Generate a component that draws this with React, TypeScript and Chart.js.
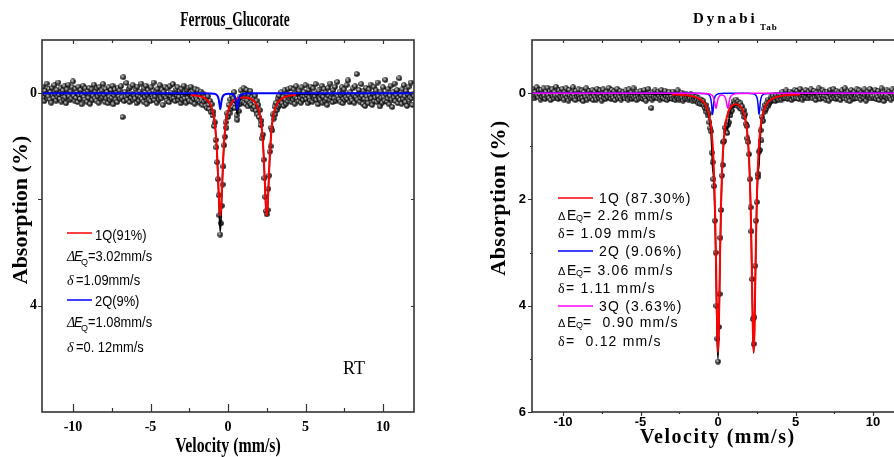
import React, { useEffect, useRef } from 'react';
import { Chart, registerables } from 'chart.js';

Chart.register(...registerables);

const SERIF = '"Liberation Serif", "Times New Roman", serif';
const SANS = '"Liberation Sans", Arial, sans-serif';
const RED = '#ff0000';
const BLUE = '#0000ff';
const MAGENTA = '#ff00ff';
const BLACK = '#000000';
const AXIS = '#333333';

// channel calibration of the spectra (velocity of first channel and channel width, mm/s)
const VEL_START = -12;
const VEL_STEP = 0.05;

const xMajorTicks = [-10, -5, 0, 5, 10];
const xMinorTicks = [-7.5, -2.5, 2.5, 7.5];
const leftYLabels = [0, 4];
const leftYTicks = [0, 2, 4];
const rightYLabels = [0, 2, 4, 6];
const rightYMinor = [1, 3, 5];

// ---- Ferrous_Glucorate: measured absorption (%) per channel ----
const leftAbs = [
  0.05,-0.12,0.08,0.15,-0.04,0.02,-0.18,0.10,0.06,-0.08,0.12,-0.02,0.18,-0.10,0.04,0.09,-0.15,0.01,0.14,-0.06,
  0.07,-0.20,0.03,0.11,-0.09,0.16,0.00,-0.05,0.12,-0.13,0.08,0.19,-0.07,0.02,-0.16,0.06,0.13,-0.03,0.10,-0.11,
  -0.22,0.05,0.14,-0.08,0.09,-0.01,0.17,-0.12,0.04,0.11,-0.06,0.21,0.03,-0.14,0.07,0.12,-0.09,0.00,0.16,-0.04,
  0.09,-0.10,0.20,0.01,-0.07,0.13,0.05,-0.16,0.10,-0.03,0.14,-0.09,0.06,0.18,-0.12,0.02,0.11,-0.05,0.08,-0.17,
  0.03,0.16,-0.08,0.10,-0.02,0.19,-0.11,0.07,0.13,-0.06,0.09,-0.14,0.21,0.04,-0.07,0.12,0.00,0.17,-0.10,0.06,
  -0.05,0.11,-0.13,0.08,0.45,-0.30,0.15,-0.02,0.06,-0.19,0.12,0.03,-0.08,0.17,-0.11,0.09,0.01,-0.15,0.13,0.04,
  0.10,-0.07,0.19,-0.12,0.05,0.14,-0.03,0.08,-0.18,0.11,0.02,0.16,-0.09,0.07,-0.14,0.20,0.03,-0.06,0.12,-0.01,
  0.15,-0.11,0.04,0.09,-0.20,0.13,0.06,-0.04,0.18,-0.08,0.01,0.12,-0.15,0.07,0.10,-0.06,0.22,-0.02,0.05,-0.12,
  0.08,0.14,-0.09,0.03,0.17,-0.13,0.06,-0.01,0.11,-0.17,0.09,0.02,0.15,-0.07,0.04,-0.11,0.13,0.07,-0.04,0.19,
  -0.08,0.12,0.05,-0.14,0.10,0.01,0.18,-0.06,0.09,-0.10,0.14,0.03,-0.12,0.16,0.06,-0.03,0.11,0.20,-0.07,0.08,
  0.12,-0.05,0.15,0.02,0.18,-0.03,0.14,0.22,0.01,0.16,0.08,0.24,0.13,0.28,0.06,0.22,0.30,0.15,0.36,0.21,
  0.42,0.35,0.62,0.55,0.88,1.02,1.30,1.62,1.92,2.30,2.66,2.45,2.12,1.72,1.38,0.98,0.82,0.55,0.65,0.38,
  0.45,0.22,0.38,0.12,0.30,0.05,0.26,0.10,-0.02,0.28,0.15,0.42,0.50,0.22,0.34,0.08,0.20,-0.05,0.16,0.02,
  -0.10,0.18,0.02,0.21,-0.06,0.14,0.25,0.03,0.19,-0.04,0.22,0.08,0.30,0.11,0.26,0.05,0.33,0.14,0.40,0.22,
  0.45,0.32,0.60,0.52,0.85,0.78,1.25,1.60,1.95,2.22,2.28,2.20,1.80,1.55,1.10,1.00,0.65,0.70,0.40,0.48,
  0.25,0.40,0.18,0.32,0.10,0.26,0.05,0.22,0.16,-0.02,0.19,0.08,0.24,-0.05,0.12,0.20,0.02,0.15,-0.08,0.10,
  0.06,-0.10,0.17,0.03,0.12,-0.07,0.20,0.08,-0.13,0.10,0.01,0.15,-0.04,0.09,0.18,-0.11,0.05,0.13,-0.02,0.07,
  -0.15,0.11,0.04,0.19,-0.06,0.08,0.14,-0.12,0.02,0.16,-0.09,0.10,0.06,-0.17,0.13,0.00,0.21,-0.05,0.09,0.12,
  0.03,-0.14,0.18,0.07,-0.08,0.15,-0.01,0.11,0.22,-0.10,0.05,0.13,-0.18,0.08,0.02,0.17,-0.06,0.10,-0.12,0.14,
  0.09,-0.21,0.06,0.12,-0.03,0.16,0.04,-0.11,0.19,0.01,-0.07,0.13,0.08,-0.15,0.11,-0.24,0.05,0.17,-0.02,0.10,
  0.14,-0.09,0.03,0.18,-0.13,0.07,-0.36,0.12,0.02,-0.06,0.16,0.09,-0.17,0.05,0.20,-0.04,0.11,0.24,-0.10,0.06,
  0.12,0.19,-0.07,0.04,-0.16,0.10,0.22,0.01,-0.12,0.15,0.08,-0.05,0.17,-0.20,0.06,0.13,0.25,-0.03,0.09,0.18,
  -0.11,0.07,0.14,-0.25,0.02,0.16,0.10,-0.08,0.21,0.05,-0.14,0.12,0.26,-0.02,0.08,-0.18,0.15,0.03,-0.06,0.19,
  0.09,-0.28,0.13,0.04,0.20,-0.07,0.11,-0.15,0.06,0.17,-0.04,0.24,0.02,-0.12,0.14,0.08,-0.20,0.10,0.22,0.01,
  0.05,
];

// fitted components (velocity knots, absorption %)
const left1QVel = [-2.4,-1.5,-1.2,-1.0,-0.9,-0.8,-0.7,-0.6,-0.55,-0.5,-0.45,-0.4,-0.3,-0.2,-0.1,0.0,0.3,0.6,1.0,1.4,1.7,2.0,2.1,2.2,2.3,2.4,2.45,2.5,2.55,2.6,2.7,2.8,2.9,3.0,3.2,3.5,4.0,4.4];
const left1QAbs = [0.029,0.094,0.181,0.324,0.467,0.715,1.158,1.848,2.173,2.308,2.174,1.851,1.161,0.72,0.473,0.332,0.154,0.099,0.080,0.099,0.154,0.332,0.473,0.72,1.161,1.851,2.174,2.308,2.173,1.848,1.158,0.715,0.467,0.324,0.181,0.094,0.045,0.029];
const left2QVel = [-12,-1.5,-0.9,-0.75,-0.65,-0.6,-0.55,-0.5,-0.45,-0.4,-0.35,-0.25,-0.1,0.05,0.2,0.35,0.45,0.5,0.55,0.6,0.65,0.7,0.75,0.85,1.0,1.6,12];
const left2QAbs = [0,0.003,0.012,0.028,0.067,0.117,0.216,0.302,0.218,0.119,0.069,0.031,0.015,0.012,0.016,0.031,0.069,0.119,0.218,0.302,0.216,0.117,0.067,0.028,0.012,0.003,0];
const leftSumVel = [-12,-3,-2.4,-1.5,-1.2,-1.0,-0.9,-0.8,-0.7,-0.6,-0.55,-0.5,-0.45,-0.4,-0.3,-0.2,-0.1,0.0,0.2,0.3,0.4,0.5,0.55,0.6,0.65,0.7,0.8,1.0,1.4,1.7,2.0,2.1,2.2,2.3,2.4,2.45,2.5,2.55,2.6,2.7,2.8,2.9,3.0,3.2,3.5,4.0,5.0,12];
const leftSumAbs = [0,0.018,0.029,0.097,0.185,0.332,0.479,0.735,1.199,1.965,2.389,2.61,2.392,1.97,1.202,0.743,0.488,0.345,0.207,0.177,0.17,0.228,0.321,0.401,0.313,0.209,0.125,0.092,0.102,0.156,0.332,0.473,0.72,1.161,1.851,2.174,2.308,2.173,1.848,1.158,0.715,0.467,0.324,0.181,0.094,0.045,0.019,0];

// ---- Dynabi Tab: measured absorption (%) per channel ----
const rightAbs = [
  0.03,-0.08,0.05,0.10,-0.02,0.06,-0.11,0.04,0.08,-0.05,0.02,0.12,-0.06,0.07,0.01,-0.09,0.05,0.11,-0.03,0.06,
  -0.10,0.04,0.09,-0.04,0.13,0.02,-0.07,0.06,0.10,-0.02,0.05,-0.12,0.08,0.03,0.11,-0.05,0.07,0.00,0.09,-0.08,
  0.06,0.12,-0.03,0.04,-0.09,0.08,0.02,0.14,-0.06,0.05,0.10,-0.01,0.07,-0.11,0.03,0.09,0.13,-0.04,0.06,0.01,
  -0.07,0.05,0.11,0.02,-0.05,0.09,0.15,-0.02,0.04,0.07,-0.09,0.12,0.03,0.06,-0.04,0.10,0.01,0.08,-0.06,0.13,
  0.04,-0.03,0.08,0.12,-0.08,0.05,0.02,0.10,-0.05,0.07,0.14,0.00,-0.07,0.09,0.04,0.11,-0.02,0.06,0.08,-0.10,
  0.07,0.03,0.11,-0.06,0.05,0.09,-0.03,0.13,0.01,0.06,-0.08,0.10,0.04,0.08,-0.04,0.12,0.02,0.07,-0.02,0.05,
  0.10,-0.05,0.06,0.03,0.12,-0.07,0.08,0.04,-0.01,0.11,0.06,-0.09,0.09,0.02,0.07,0.13,-0.03,0.05,0.10,0.01,
  -0.04,0.08,0.03,0.11,0.06,-0.06,0.09,0.14,0.02,0.05,-0.08,0.07,0.10,0.04,0.28,0.12,-0.02,0.06,0.09,-0.05,
  0.07,0.02,0.10,-0.03,0.05,0.12,0.08,-0.06,0.04,0.09,0.01,0.11,-0.04,0.06,0.13,0.03,0.08,-0.02,0.10,0.05,
  0.06,0.11,-0.03,0.08,0.04,0.13,0.02,0.09,-0.05,0.07,0.12,0.05,0.10,-0.01,0.08,0.14,0.03,0.06,0.11,0.02,
  0.08,0.03,0.12,0.06,0.10,0.02,0.09,0.14,0.05,0.11,0.08,0.15,0.07,0.12,0.18,0.10,0.14,0.20,0.12,0.17,
  0.20,0.15,0.24,0.28,0.22,0.35,0.30,0.42,0.38,0.55,0.66,0.72,1.12,1.30,1.62,1.75,2.40,3.00,4.00,4.62,
  5.05,4.40,3.78,2.72,2.20,1.55,1.35,0.92,0.90,0.65,0.72,0.58,0.75,0.60,0.55,0.38,0.42,0.26,0.33,0.22,
  0.22,0.15,0.20,0.12,0.18,0.24,0.16,0.21,0.28,0.19,0.30,0.25,0.36,0.32,0.45,0.40,0.58,0.62,0.85,0.92,
  1.15,1.62,2.15,2.60,3.50,4.25,4.72,4.22,3.25,2.40,2.05,1.58,1.52,1.10,1.07,0.70,0.89,0.45,0.52,0.30,
  0.35,0.22,0.30,0.18,0.25,0.12,0.20,0.16,0.08,0.14,0.10,0.05,0.13,0.09,0.15,0.04,0.11,0.07,0.12,0.03,
  0.08,0.05,0.12,-0.02,0.07,0.10,0.03,0.09,-0.05,0.06,0.11,0.02,0.08,-0.03,0.05,0.13,0.00,0.07,0.10,-0.06,
  0.04,0.09,-0.04,0.06,0.11,0.01,-0.08,0.07,0.03,0.12,-0.02,0.05,0.09,-0.06,0.08,0.02,0.10,-0.03,0.06,0.04,
  -0.07,0.05,0.10,0.02,-0.04,0.08,0.13,-0.01,0.06,0.03,-0.09,0.07,0.11,0.00,0.05,-0.05,0.09,0.04,-0.02,0.12,
  0.06,-0.03,0.08,0.14,0.01,-0.06,0.05,0.10,0.03,-0.08,0.07,0.02,0.11,-0.04,0.06,0.09,-0.01,0.04,0.13,0.00,
  -0.05,0.07,0.03,0.10,-0.09,0.05,0.12,0.02,-0.03,0.08,0.15,0.04,-0.06,0.06,0.01,0.11,-0.02,0.09,0.05,-0.07,
  0.10,0.03,-0.05,0.07,0.12,-0.01,0.06,0.02,0.09,-0.07,0.04,0.14,0.01,-0.03,0.08,0.05,-0.08,0.10,0.03,0.06,
  -0.02,0.09,0.05,-0.06,0.11,0.03,0.07,-0.04,0.13,0.02,0.06,-0.09,0.08,0.04,0.15,-0.01,0.07,0.03,-0.05,0.10,
  0.05,-0.03,0.08,0.12,0.01,-0.07,0.06,0.10,-0.02,0.04,0.09,0.02,-0.05,0.11,0.03,0.07,-0.04,0.08,0.01,0.06,
  0.04,
];

const right1QVel = [-3,-2,-1.5,-1,-0.7,-0.5,-0.4,-0.3,-0.2,-0.15,-0.1,-0.05,0,0.05,0.1,0.15,0.2,0.3,0.4,0.5,0.7,0.9,1.15,1.4,1.6,1.8,1.9,2.0,2.1,2.15,2.2,2.25,2.3,2.35,2.4,2.45,2.5,2.6,2.7,2.8,3.0,3.3,3.8,4.3,5.3];
const right1QAbs = [0.021,0.042,0.071,0.149,0.286,0.521,0.761,1.2,2.056,2.751,3.627,4.489,4.876,4.491,3.632,2.758,2.065,1.214,0.78,0.546,0.324,0.238,0.208,0.238,0.324,0.546,0.78,1.214,2.065,2.758,3.632,4.491,4.876,4.489,3.627,2.751,2.056,1.2,0.761,0.521,0.286,0.149,0.071,0.042,0.021];
const right2QVel = [-12,-1.5,-0.75,-0.6,-0.5,-0.45,-0.42,-0.385,-0.35,-0.315,-0.28,-0.25,-0.2,-0.1,0.05,0.5,1.15,1.8,2.25,2.4,2.5,2.55,2.58,2.615,2.65,2.685,2.72,2.75,2.8,2.9,3.05,3.8,12];
const right2QAbs = [0,0.001,0.012,0.029,0.072,0.131,0.2,0.32,0.4,0.32,0.2,0.131,0.072,0.029,0.012,0.003,0.002,0.003,0.012,0.029,0.072,0.131,0.2,0.32,0.4,0.32,0.2,0.131,0.072,0.029,0.012,0.001,0];
const right3QVel = [-12,-1.5,-0.8,-0.5,-0.35,-0.25,-0.18,-0.13,-0.08,-0.01,0.08,0.25,0.42,0.51,0.58,0.63,0.68,0.75,0.85,1.0,1.4,2.2,12];
const right3QAbs = [0,0.002,0.007,0.021,0.051,0.118,0.228,0.285,0.229,0.122,0.061,0.036,0.061,0.122,0.229,0.285,0.228,0.118,0.051,0.021,0.007,0.002,0];
const rightSumVel = [-12,-3,-2,-1.5,-1,-0.7,-0.5,-0.45,-0.4,-0.35,-0.3,-0.25,-0.2,-0.15,-0.1,-0.05,0,0.05,0.1,0.15,0.2,0.3,0.4,0.5,0.55,0.6,0.63,0.7,0.8,0.9,1.15,1.4,1.6,1.8,1.9,2.0,2.1,2.15,2.2,2.25,2.3,2.35,2.4,2.45,2.5,2.55,2.6,2.65,2.7,2.75,2.8,2.9,3.0,3.3,3.8,4.3,5.3,12];
const rightSumAbs = [0,0.022,0.044,0.074,0.158,0.311,0.614,0.782,1.062,1.397,1.54,1.805,2.32,3.069,3.918,4.686,5.001,4.577,3.696,2.81,2.11,1.257,0.838,0.66,0.648,0.674,0.668,0.519,0.351,0.278,0.222,0.245,0.329,0.551,0.785,1.221,2.072,2.767,3.642,4.503,4.892,4.509,3.656,2.795,2.128,1.687,1.465,1.346,1.026,0.755,0.593,0.406,0.298,0.153,0.072,0.042,0.021,0];

const H = 457;

function channelVelocities(n: number) {
  return Array.from({ length: n }, (_, i) => +(VEL_START + i * VEL_STEP).toFixed(3));
}
function zip(xs: number[], ys: number[]) {
  return xs.map((x, i) => ({ x, y: ys[i] }));
}

function makeBall(d: number) {
  const c = document.createElement('canvas');
  c.width = d; c.height = d;
  const g = c.getContext('2d')!;
  const r = d / 2;
  const grad = g.createRadialGradient(r * 0.65, r * 0.65, 0, r, r, r);
  grad.addColorStop(0, '#ffffff');
  grad.addColorStop(0.3, '#8c8c8c');
  grad.addColorStop(0.7, '#1c1c1c');
  grad.addColorStop(1, '#000000');
  g.fillStyle = grad;
  g.beginPath();
  g.arc(r, r, r - 0.2, 0, Math.PI * 2);
  g.fill();
  return c;
}

function txt(ctx: any, s: string, x: number, y: number, font: string, o: any = {}) {
  ctx.save();
  ctx.translate(x, y);
  if (o.rot) ctx.rotate(o.rot);
  if (o.sx) ctx.scale(o.sx, 1);
  ctx.font = font;
  ctx.fillStyle = o.color || '#000';
  ctx.textAlign = o.align || 'left';
  ctx.textBaseline = o.base || 'alphabetic';
  ctx.letterSpacing = o.ls || '0px';
  ctx.fillText(s, 0, 0);
  ctx.restore();
}

function seg(ctx: any, x1: number, x2: number, y: number, color: string, w = 1.5) {
  ctx.save();
  ctx.strokeStyle = color;
  ctx.lineWidth = w;
  ctx.beginPath();
  ctx.moveTo(x1, y);
  ctx.lineTo(x2, y);
  ctx.stroke();
  ctx.restore();
}

function axes(chart: any, t: any) {
  const ctx = chart.ctx;
  const a = chart.chartArea;
  const xs = chart.scales.x;
  const ys = chart.scales.y;
  ctx.save();
  ctx.strokeStyle = AXIS;
  ctx.lineWidth = 1.2;
  ctx.beginPath();
  const vx = (vals: number[], len: number, side: string) => {
    if (!len) return;
    vals.forEach((v) => {
      const p = Math.round(xs.getPixelForValue(v)) + 0.5;
      if (side === 'bottom') { ctx.moveTo(p, a.bottom); ctx.lineTo(p, a.bottom - len); }
      else { ctx.moveTo(p, a.top); ctx.lineTo(p, a.top + len); }
    });
  };
  const vy = (vals: number[], len: number, side: string) => {
    if (!len) return;
    vals.forEach((v) => {
      const p = Math.round(ys.getPixelForValue(v)) + 0.5;
      if (side === 'left') { ctx.moveTo(a.left, p); ctx.lineTo(a.left + len, p); }
      else { ctx.moveTo(a.right, p); ctx.lineTo(a.right - len, p); }
    });
  };
  vx(t.xMajor, t.bottom[0], 'bottom');
  vx(t.xMinor, t.bottom[1], 'bottom');
  vx(t.xMajor, t.top[0], 'top');
  vx(t.xMinor, t.top[1], 'top');
  vy(t.yMajor, t.left[0], 'left');
  vy(t.yMinor, t.left[1], 'left');
  vy(t.yMajor, t.right[0], 'right');
  vy(t.yMinor, t.right[1], 'right');
  ctx.stroke();
  ctx.lineWidth = 1.6;
  ctx.strokeRect(a.left, a.top, a.right - a.left, a.bottom - a.top);
  ctx.restore();
}

function drawLeftDecor(chart: any) {
  const ctx = chart.ctx;
  axes(chart, {
    xMajor: xMajorTicks, xMinor: xMinorTicks, yMajor: leftYTicks, yMinor: [],
    bottom: [8, 4], top: [4, 3], left: [-4, 0], right: [3, 0],
  });
  txt(ctx, 'Ferrous_Glucorate', 235, 26, `bold 21px ${SERIF}`, { align: 'center', sx: 0.64 });
  txt(ctx, 'Velocity (mm/s)', 228, 452, `bold 21px ${SERIF}`, { align: 'center', sx: 0.755 });
  txt(ctx, 'Absorption (%)', 27, 210, `bold 22px ${SERIF}`, { align: 'center', rot: -Math.PI / 2 });

  const F = `14px ${SANS}`;
  const sx = 0.92;
  seg(ctx, 67, 92, 233, RED);
  txt(ctx, '1Q(91%)', 95, 240, F, { sx });
  txt(ctx, 'Δ', 67, 261, `italic 14px ${SERIF}`);
  txt(ctx, 'E', 74, 261, `italic 14px ${SANS}`, { sx });
  txt(ctx, 'Q', 81, 265, `9px ${SANS}`);
  txt(ctx, '=3.02mm/s', 88, 261, F, { sx });
  txt(ctx, 'δ', 67, 285, `italic 14px ${SERIF}`);
  txt(ctx, '=1.09mm/s', 76, 285, F, { sx });
  seg(ctx, 67, 92, 300, BLUE);
  txt(ctx, '2Q(9%)', 95, 306, F, { sx });
  txt(ctx, 'Δ', 67, 327, `italic 14px ${SERIF}`);
  txt(ctx, 'E', 74, 327, `italic 14px ${SANS}`, { sx });
  txt(ctx, 'Q', 81, 331, `9px ${SANS}`);
  txt(ctx, '=1.08mm/s', 88, 327, F, { sx });
  txt(ctx, 'δ', 67, 352, `italic 14px ${SERIF}`);
  txt(ctx, '=0. 12mm/s', 76, 352, F, { sx });
  txt(ctx, 'RT', 343, 374, `18px ${SERIF}`);
}

const RIGHT_OFFSET = 480;

function drawRightDecor(chart: any) {
  const ctx = chart.ctx;
  axes(chart, {
    xMajor: xMajorTicks, xMinor: xMinorTicks, yMajor: rightYLabels, yMinor: rightYMinor,
    bottom: [-4, -2], top: [3, 3], left: [-4, -2], right: [0, 0],
  });
  ctx.save();
  ctx.translate(-RIGHT_OFFSET, 0);
  txt(ctx, 'Dynabi', 693, 23, `bold 15px ${SERIF}`, { ls: '3px' });
  txt(ctx, 'Tab', 760, 30, `bold 9px ${SERIF}`, { ls: '1px' });
  txt(ctx, 'Velocity (mm/s)', 640, 443, `bold 20px ${SERIF}`, { ls: '1.5px' });
  txt(ctx, 'Absorption (%)', 505, 198, `bold 22px ${SERIF}`, { align: 'center', rot: -Math.PI / 2, ls: '0.5px' });

  const F = `14px ${SANS}`;
  const ls = '1.2px';
  const dE = (y: number, rest: string) => {
    txt(ctx, 'Δ', 558, y, `11px ${SANS}`);
    txt(ctx, 'E', 567, y, F);
    txt(ctx, 'Q', 576, y + 1, `9px ${SANS}`);
    txt(ctx, rest, 583, y, F, { ls });
  };
  const d = (y: number, rest: string) => {
    txt(ctx, 'δ', 558, y, `14px ${SERIF}`);
    txt(ctx, rest, 566, y, F, { ls });
  };
  seg(ctx, 558, 593, 198, RED);
  txt(ctx, '1Q (87.30%)', 599, 203, F, { ls });
  dE(220, '= 2.26 mm/s');
  d(238, '= 1.09 mm/s');
  seg(ctx, 558, 593, 251, BLUE);
  txt(ctx, '2Q (9.06%)', 599, 256, F, { ls });
  dE(275, '= 3.06 mm/s');
  d(293, '= 1.11 mm/s');
  seg(ctx, 558, 593, 306, MAGENTA);
  txt(ctx, '3Q (3.63%)', 599, 311, F, { ls });
  dE(327, '=  0.90 mm/s');
  d(346, '=  0.12 mm/s');
  ctx.restore();
}

function buildConfig(p: any) {
  const ball = makeBall(6);
  const lineSets = p.lines.map((l: any, i: number) => ({
    data: zip(l.v, l.a),
    showLine: true,
    borderColor: l.color,
    borderWidth: l.w,
    pointRadius: 0,
    cubicInterpolationMode: 'monotone',
    fill: false,
    order: i,
  }));
  return {
    type: 'scatter',
    data: {
      datasets: [
        ...lineSets,
        {
          data: zip(channelVelocities(p.abs.length), p.abs),
          showLine: false,
          pointStyle: ball,
          pointRadius: 3,
          order: 99,
        },
      ],
    },
    options: {
      responsive: false,
      animation: false,
      events: [],
      layout: { padding: p.pad },
      plugins: { legend: { display: false }, tooltip: { enabled: false }, title: { display: false } },
      scales: {
        x: {
          type: 'linear', min: -12, max: 12, position: 'bottom',
          afterBuildTicks: (s: any) => { s.ticks = xMajorTicks.map((v) => ({ value: v })); },
          afterFit: (s: any) => { s.height = p.xAxisH; s.paddingLeft = 0; s.paddingRight = 0; s.paddingTop = 0; s.paddingBottom = 0; },
          grid: { display: false, drawTicks: false },
          border: { display: false },
          ticks: { autoSkip: false, maxRotation: 0, padding: p.xPad, color: '#000', font: p.tickFont },
        },
        y: {
          type: 'linear', min: -1, max: 6, reverse: true, position: 'left',
          afterBuildTicks: (s: any) => { s.ticks = p.yLabels.map((v: number) => ({ value: v })); },
          afterFit: (s: any) => { s.width = p.yAxisW; s.paddingLeft = 0; s.paddingRight = 0; s.paddingTop = 0; s.paddingBottom = 0; },
          grid: { display: false, drawTicks: false },
          border: { display: false },
          ticks: { autoSkip: false, padding: p.yPad, color: '#000', font: p.tickFont },
        },
      },
    },
    plugins: [{ id: 'decor', afterDraw: (c: any) => p.decor(c) }],
  };
}

function SpectrumChart({ p }: { p: any }) {
  const ref = useRef<HTMLCanvasElement>(null);
  useEffect(() => {
    const chart = new Chart(ref.current as any, buildConfig(p) as any);
    return () => chart.destroy();
  }, []);
  return (
    <canvas
      ref={ref}
      width={p.w}
      height={H}
      style={{ position: 'absolute', left: p.x, top: 0, width: p.w, height: H, display: 'block' }}
    />
  );
}

const leftSpec = {
  x: 0, w: 440,
  pad: { left: 0, right: 26, top: 40, bottom: 0 },
  yAxisW: 42, xAxisH: 45,
  abs: leftAbs,
  lines: [
    { v: left2QVel, a: left2QAbs, color: BLUE, w: 2 },
    { v: left1QVel, a: left1QAbs, color: RED, w: 2 },
    { v: leftSumVel, a: leftSumAbs, color: BLACK, w: 1.5 },
  ],
  yLabels: leftYLabels,
  tickFont: { family: SERIF, weight: 'bold', size: 14 },
  xPad: 7, yPad: 5,
  decor: drawLeftDecor,
};

const rightSpec = {
  x: RIGHT_OFFSET, w: 434,
  pad: { left: 0, right: 10, top: 40, bottom: 0 },
  yAxisW: 52, xAxisH: 45,
  abs: rightAbs,
  lines: [
    { v: right3QVel, a: right3QAbs, color: MAGENTA, w: 1.5 },
    { v: right2QVel, a: right2QAbs, color: BLUE, w: 1.5 },
    { v: right1QVel, a: right1QAbs, color: RED, w: 2 },
    { v: rightSumVel, a: rightSumAbs, color: BLACK, w: 1.5 },
  ],
  yLabels: rightYLabels,
  tickFont: { family: SANS, weight: 'bold', size: 13 },
  xPad: 3, yPad: 6,
  decor: drawRightDecor,
};

export default function App() {
  return (
    <div style={{ position: 'fixed', left: 0, top: 0, width: 894, height: 457, overflow: 'hidden', background: '#fff' }}>
      <SpectrumChart p={leftSpec} />
      <SpectrumChart p={rightSpec} />
    </div>
  );
}
